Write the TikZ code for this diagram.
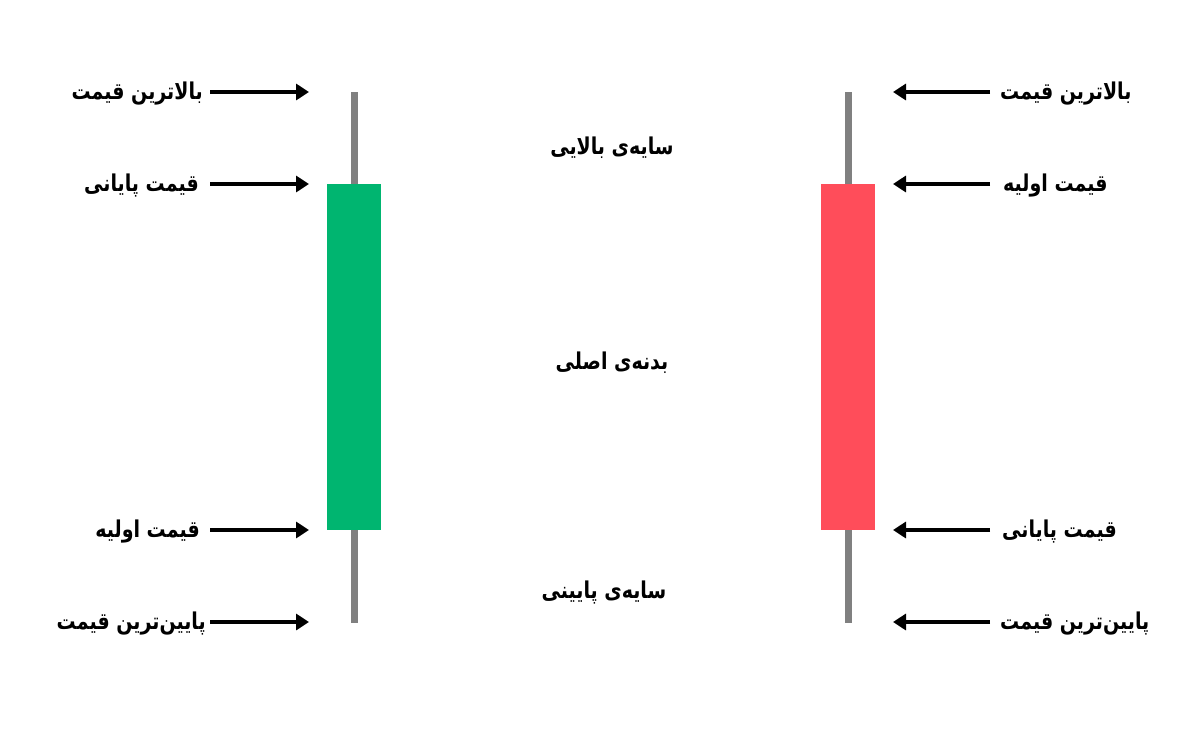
\documentclass[tikz,border=0pt]{standalone}
\usepackage{fontspec}
\usepackage{graphicx}
\usetikzlibrary{arrows.meta}
\TeXXeTstate=1
\newfontfamily\fa[Script=Arabic]{DejaVu Sans}
\newcommand{\fatext}[1]{\scalebox{1}[1.22]{\beginR #1\endR}}
\definecolor{upgreen}{RGB}{0,181,112}
\definecolor{downred}{RGB}{255,77,90}
\definecolor{wickgray}{RGB}{128,128,128}
\tikzset{
  bodybox/.style={draw=none, minimum width=54pt, minimum height=346pt, inner sep=0pt},
  sidelabel/.style={font=\fa\bfseries\fontsize{19}{22}\selectfont, inner sep=0pt, text=black},
  midlabel/.style={font=\fa\bfseries\fontsize{19}{22}\selectfont, inner sep=0pt, text=black},
  pointer/.style={line width=3.4pt, -{Triangle[length=13pt,width=16pt]}}
}
\begin{document}
\begin{tikzpicture}[x=1pt,y=-1pt]
\useasboundingbox (0,0) rectangle (1200,731);
% left candle
\fill[wickgray] (350.5,92) rectangle (357.5,623);
\node[bodybox, fill=upgreen] (gbody) at (354,357) {};
% right candle
\fill[wickgray] (844.5,92) rectangle (851.5,623);
\node[bodybox, fill=downred] (rbody) at (848,357) {};
% left arrow targets
\coordinate (lt1) at (309,92);
\coordinate (lt2) at (309,184);
\coordinate (lt3) at (309,530);
\coordinate (lt4) at (309,622);
% right arrow targets
\coordinate (rt1) at (893,92);
\coordinate (rt2) at (893,184);
\coordinate (rt3) at (893,530);
\coordinate (rt4) at (893,622);
% left labels
\node[sidelabel, anchor=east] (l1) at (203,94) {\fatext{بالاترین قیمت}};
\node[sidelabel, anchor=east] (l2) at (199,186) {\fatext{قیمت پایانی}};
\node[sidelabel, anchor=east] (l3) at (200,532) {\fatext{قیمت اولیه}};
\node[sidelabel, anchor=east] (l4) at (206,624) {\fatext{پایین^^^^200cترین قیمت}};
% right labels
\node[sidelabel, anchor=west] (r1) at (1000,94) {\fatext{بالاترین قیمت}};
\node[sidelabel, anchor=west] (r2) at (1003,186) {\fatext{قیمت اولیه}};
\node[sidelabel, anchor=west] (r3) at (1002,532) {\fatext{قیمت پایانی}};
\node[sidelabel, anchor=west] (r4) at (1000,624) {\fatext{پایین^^^^200cترین قیمت}};
% middle labels
\node[midlabel] (m1) at (612,148) {\fatext{سایه^^^^200cی بالایی}};
\node[midlabel] (m2) at (612,363) {\fatext{بدنه^^^^200cی اصلی}};
\node[midlabel] (m3) at (604,593) {\fatext{سایه^^^^200cی پایینی}};
% arrows
\draw[pointer] (210,92) -- (lt1);
\draw[pointer] (210,184) -- (lt2);
\draw[pointer] (210,530) -- (lt3);
\draw[pointer] (210,622) -- (lt4);
\draw[pointer] (990,92) -- (rt1);
\draw[pointer] (990,184) -- (rt2);
\draw[pointer] (990,530) -- (rt3);
\draw[pointer] (990,622) -- (rt4);
\end{tikzpicture}
\end{document}
